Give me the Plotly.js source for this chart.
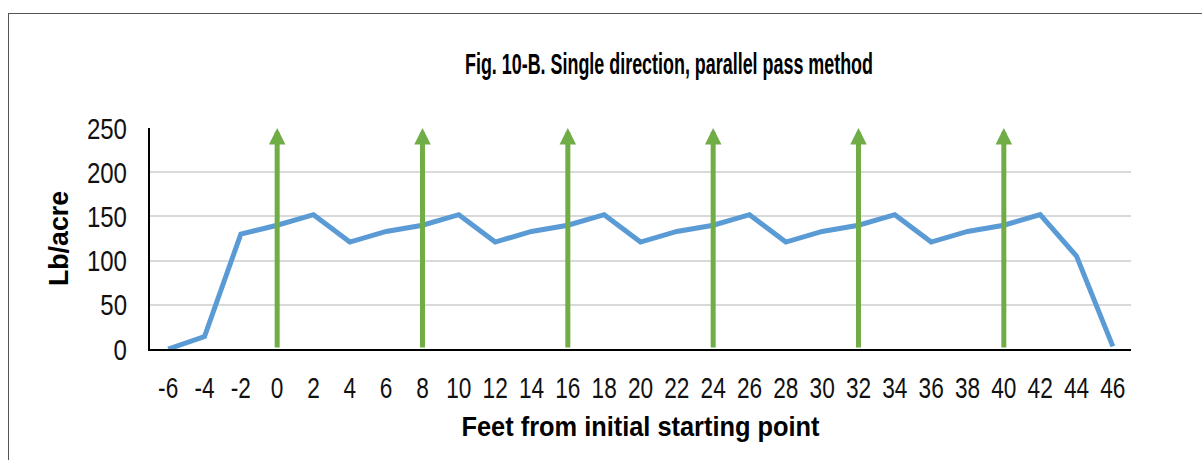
<!DOCTYPE html>
<html>
<head>
<meta charset="utf-8">
<script src="https://cdn.plot.ly/plotly-3.0.1.min.js"></script>
<style>
  html, body { margin: 0; padding: 0; background: #fff; }
  #wrap { position: relative; width: 1202px; height: 460px; overflow: hidden; }
  #chart { width: 1202px; height: 460px; }
  #frame { position: absolute; left: 8px; top: 13px; width: 1300px; height: 600px;
           border-left: 1px solid #555; border-top: 1px solid #555; pointer-events: none; }
</style>
</head>
<body>
<div id="wrap">
  <div id="chart"></div>
  <div id="frame"></div>
</div>
<script>
// Data
const feet = [-6, -4, -2, 0, 2, 4, 6, 8, 10, 12, 14, 16, 18, 20, 22, 24, 26, 28, 30, 32, 34, 36, 38, 40, 42, 44, 46];
const feetLabels = ['-6', '-4', '-2', '0', '2', '4', '6', '8', '10', '12', '14', '16', '18', '20', '22', '24', '26', '28', '30', '32', '34', '36', '38', '40', '42', '44', '46'];
const lbPerAcre = [0, 14, 130, 140, 152, 121, 133, 140, 152, 121, 133, 140, 152, 121, 133, 140, 152, 121, 133, 140, 152, 121, 133, 140, 152, 105, 3];
const passPositions = [0, 8, 16, 24, 32, 40];
const passTop = 250;
const passBottom = 0;
const yTicks = [0, 50, 100, 150, 200, 250];

const FONT = '"Liberation Sans", Arial, sans-serif';

const trace = {
  x: feet,
  y: lbPerAcre,
  type: 'scatter',
  mode: 'lines',
  line: { color: '#5B9BD5', width: 5 },
  hoverinfo: 'x+y',
  showlegend: false
};

const annotations = passPositions.map(p => ({
  x: p, y: passTop, xref: 'x', yref: 'y',
  ax: p, ay: passBottom, axref: 'x', ayref: 'y',
  showarrow: true, arrowhead: 2, arrowsize: 0.66, arrowwidth: 5,
  arrowcolor: '#70AD47', standoff: 0, text: ''
}));

const layout = {
  width: 1202,
  height: 460,
  margin: { l: 150, r: 71, t: 128, b: 111 },
  paper_bgcolor: '#ffffff',
  plot_bgcolor: '#ffffff',
  title: {
    text: 'Fig. 10-B. Single direction, parallel pass method',
    font: { family: FONT, size: 29, color: '#000', weight: 'bold' },
    x: 669 / 1202, xanchor: 'center',
    y: 1 - 64 / 460, yanchor: 'middle'
  },
  xaxis: {
    range: [-7, 47],
    tickvals: feet,
    ticktext: feetLabels,
    showgrid: false,
    zeroline: false,
    showline: true,
    linecolor: '#000',
    linewidth: 2,
    ticks: '',
    ticklabelstandoff: 12,
    tickfont: { family: FONT, size: 29, color: '#111' },
    title: { text: 'Feet from initial starting point', font: { family: FONT, size: 28, color: '#000', weight: 'bold' }, standoff: 14 },
    fixedrange: true
  },
  yaxis: {
    range: [0, 250],
    tickvals: yTicks,
    showgrid: true,
    gridcolor: '#d9d9d9',
    gridwidth: 2,
    zeroline: false,
    showline: true,
    linecolor: '#000',
    linewidth: 2,
    ticks: '',
    ticklabelstandoff: 15,
    tickfont: { family: FONT, size: 30, color: '#111' },
    title: { text: 'Lb/acre', font: { family: FONT, size: 28, color: '#000', weight: 'bold' }, standoff: 0 },
    fixedrange: true
  },
  annotations: annotations,
  showlegend: false
};

// Condense text horizontally (the original uses a condensed typeface), keeping each anchor in place
function squeeze(t, target) {
  const b0 = t.getBBox();
  if (!(b0.width > 0)) return;
  t.setAttribute('textLength', target.toFixed(1));
  t.setAttribute('lengthAdjust', 'spacingAndGlyphs');
  const b1 = t.getBBox();
  const anchor = t.getAttribute('text-anchor') || getComputedStyle(t).textAnchor || 'start';
  let shift;
  if (anchor === 'end') shift = (b0.x + b0.width) - (b1.x + b1.width);
  else if (anchor === 'middle') shift = (b0.x + b0.width / 2) - (b1.x + b1.width / 2);
  else shift = b0.x - b1.x;
  if (Math.abs(shift) > 0.1) t.setAttribute('dx', shift.toFixed(1));
}
function condense(gd) {
  const fit = (sel, fn) => gd.querySelectorAll(sel).forEach(t => squeeze(t, fn(t.getComputedTextLength())));
  fit('.xtick text', w => w * 0.78);
  fit('.ytick text', w => w * 0.80);
  fit('.gtitle', () => 408);
  fit('.g-xtitle text', () => 358);
  fit('.g-ytitle text', () => 95);
}

Plotly.newPlot('chart', [trace], layout, { displayModeBar: false }).then(gd => condense(gd));
</script>
</body>
</html>
